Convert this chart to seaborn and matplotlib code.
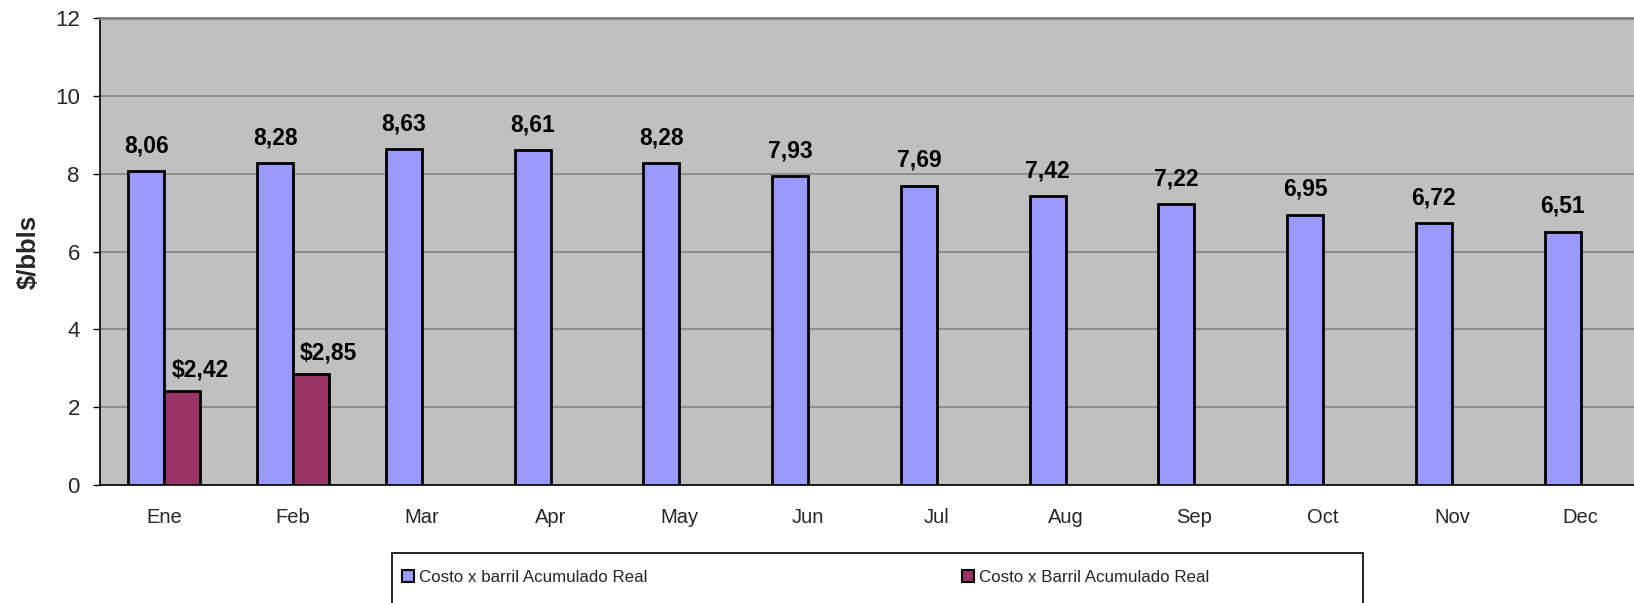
import matplotlib
matplotlib.use("Agg")
import matplotlib.pyplot as plt
from matplotlib.patches import Rectangle, Patch
import seaborn as sns
import pandas as pd

months = ["Ene", "Feb", "Mar", "Apr", "May", "Jun", "Jul", "Aug", "Sep", "Oct", "Nov", "Dec"]
series_a_name = "Costo x barril Acumulado Real"
series_b_name = "Costo x Barril Acumulado Real"
series_a = [8.06, 8.28, 8.63, 8.61, 8.28, 7.93, 7.69, 7.42, 7.22, 6.95, 6.72, 6.51]
series_b_months = ["Ene", "Feb"]
series_b = [2.42, 2.85]
y_ticks = [0, 2, 4, 6, 8, 10, 12]

BLUE = "#9999FF"
PURPLE = "#993366"
BG = "#C0C0C0"

df = pd.concat([
    pd.DataFrame({"mes": months, "valor": series_a, "serie": series_a_name}),
    pd.DataFrame({"mes": series_b_months, "valor": series_b, "serie": series_b_name}),
], ignore_index=True)

sns.set_theme(style="white")
plt.rcParams["font.family"] = ["Liberation Sans", "DejaVu Sans"]

W, H = 1634, 603
fig = plt.figure(figsize=(W / 100, H / 100), dpi=100)
ax = fig.add_axes([100 / W, 1 - 485 / H, 1545 / W, (485 - 18) / H])
ax.set_facecolor(BG)

sns.barplot(data=df, x="mes", y="valor", hue="serie", order=months,
            hue_order=[series_a_name, series_b_name],
            palette=[BLUE, PURPLE], saturation=1, width=0.56, dodge=True,
            edgecolor="black", linewidth=2, ax=ax, legend=False, zorder=3)

ax.set_ylim(0, 12)
ax.set_xlim(-0.5, len(months) - 0.5)
ax.set_yticks(y_ticks)
ax.set_yticklabels([str(t) for t in y_ticks], fontsize=16)
ax.yaxis.grid(True, color="#858585", linewidth=1.2, zorder=0)
ax.set_axisbelow(True)

ax.set_xticks([i for i in range(len(months))])
ax.set_xticklabels(months, fontsize=14.5)
ax.tick_params(axis="x", which="major", length=0, pad=16.5)
ax.set_xticks([i + 0.5 for i in range(len(months))], minor=True)
ax.tick_params(axis="x", which="minor", length=5, width=1, color="black", direction="out")
ax.tick_params(axis="y", length=5, width=1, color="black", direction="out", pad=9.5, left=True)
ax.set_xlabel("")
ax.set_ylabel("$/bbls", fontsize=18.5, fontweight="bold", labelpad=10.5)

for s in ["left", "bottom"]:
    ax.spines[s].set_color("black")
    ax.spines[s].set_linewidth(1.2)
ax.spines["top"].set_color("#808080")
ax.spines["top"].set_linewidth(2)
ax.spines["right"].set_color("#808080")

# data labels
for cont, fmt, dx, dy in [(ax.containers[0], "{:.2f}", 0, 13.5),
                         (ax.containers[1], "${:.2f}", 12.6, 10.5)]:
    for bar in cont:
        h = bar.get_height()
        if h != h:
            continue
        x = bar.get_x() + bar.get_width() / 2
        ax.annotate(fmt.format(h).replace(".", ","), (x, h), xytext=(dx, dy),
                    textcoords="offset points", ha="center", va="baseline",
                    fontsize=16.5, fontweight="bold", color="black", zorder=5)

# legend box
fig.patches.append(Rectangle((392 / W, -0.02), 971 / W, (603 - 553) / H + 0.02,
                             transform=fig.transFigure, facecolor="white",
                             edgecolor="black", linewidth=1.2))
handles = [Patch(facecolor=BLUE, edgecolor="black", linewidth=1.5, label=series_a_name),
           Patch(facecolor=PURPLE, edgecolor="black", linewidth=1.5, label=series_b_name)]
fig.legend(handles=handles, loc="center left", bbox_to_anchor=(395 / W, 1 - 577 / H),
           ncol=2, frameon=False, fontsize=12.2,
           handlelength=0.7, handleheight=0.7,
           handletextpad=0.3, columnspacing=18.6, borderaxespad=0)

fig.savefig("out.png", dpi=100)
